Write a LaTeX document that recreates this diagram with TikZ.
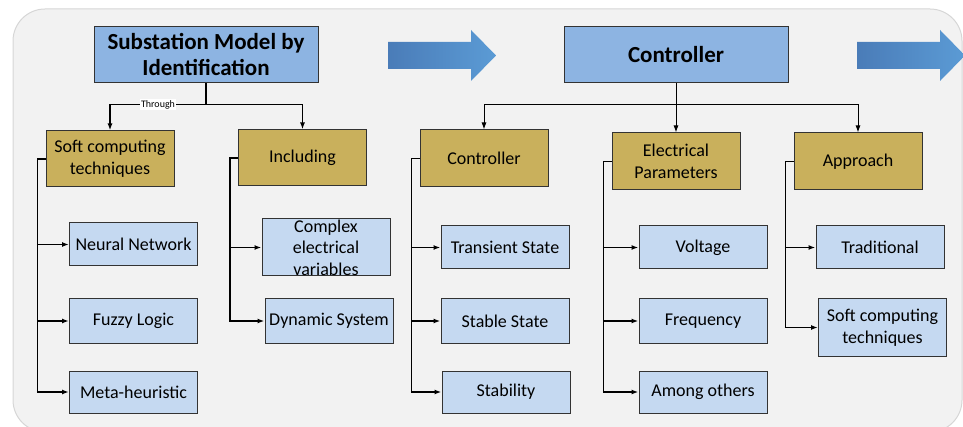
\documentclass[tikz,border=0pt]{standalone}
\usepackage{fontspec}
\setmainfont{Carlito}
\usepackage{xcolor}
\usetikzlibrary{arrows.meta,calc,positioning}
\definecolor{topblue}{RGB}{141,180,226}
\definecolor{goldbox}{RGB}{201,176,92}
\definecolor{leafblue}{RGB}{197,217,241}
\definecolor{panelgray}{RGB}{242,242,242}
\definecolor{paneledge}{RGB}{214,214,214}
\definecolor{arrowdark}{RGB}{74,124,184}
\definecolor{arrowlight}{RGB}{91,155,213}
\tikzset{
  topbox/.style={draw=black!80, line width=1pt, fill=topblue, minimum width=224pt, minimum height=56pt, align=center, inner sep=2pt, font=\fontsize{23}{26}\selectfont\bfseries},
  midbox/.style={draw=black!80, line width=1pt, fill=goldbox, minimum width=128pt, minimum height=56pt, align=center, inner sep=2pt, font=\fontsize{18}{21.6}\selectfont},
  leafbox/.style={draw=black!80, line width=1pt, fill=leafblue, minimum width=128pt, minimum height=43pt, align=center, inner sep=2pt, font=\fontsize{18}{21.6}\selectfont},
  bus/.style={line width=1.5pt},
  link/.style={line width=1.5pt, -{Latex[length=7pt,width=5pt]}},
  thinlink/.style={line width=1pt, -{Latex[length=7pt,width=5pt]}},
  tag/.style={fill=white, inner sep=1pt, font=\fontsize{10}{11}\selectfont},
  flowarrow/.style={left color=arrowdark, right color=arrowlight, draw=none}
}
\begin{document}
\begin{tikzpicture}[x=1pt,y=-1pt]
    \useasboundingbox (0,0) rectangle (963,427);
    % background panel
    \draw[paneledge, fill=panelgray, line width=1pt, rounded corners=32pt] (13,9) rectangle (962,432);
    % flow arrows
    \path[flowarrow] (388,42) -- (471,42) -- (471,30) -- (496,55.5) -- (471,81) -- (471,69) -- (388,69) -- cycle;
    \path[flowarrow] (857,42) -- (940,42) -- (940,30) -- (965,55.5) -- (940,81) -- (940,69) -- (857,69) -- cycle;
    % top boxes
    \node (smi) [topbox] at (206,55) {Substation Model by\\Identification};
    \node (ctrl) [topbox] at (676,55) {Controller};
    % second level
    \node (soft) [midbox] at (110,159) {Soft computing\\techniques};
    \node (incl) [midbox] at (302.5,158) {Including};
    \node (ctl) [midbox,minimum height=57pt] at (484,158.5) {Controller};
    \node (elec) [midbox,minimum height=57pt] at (676,161.5) {Electrical\\Parameters};
    \node (appr) [midbox,minimum height=57pt] at (858,161.5) {Approach};
    % leaves
    \node (neural) [leafbox] at (133.5,244.5) {Neural Network};
    \node (fuzzy) [leafbox,minimum height=44pt] at (133.5,321) {Fuzzy Logic};
    \node (meta) [leafbox,minimum height=42pt] at (133.5,392) {Meta-heuristic};
    \node (cplx) [leafbox,minimum height=57pt,inner ysep=-3pt] at (326,247.5) {Complex\\electrical\\variables};
    \node (dyn) [leafbox,minimum height=44pt] at (329,321) {Dynamic System};
    \node (trans) [leafbox] at (505,247.5) {Transient State};
    \node (stable) [leafbox,minimum height=44pt] at (505,321) {Stable State};
    \node (stab) [leafbox,minimum height=42pt] at (506,392) {Stability};
    \node (volt) [leafbox] at (703,247.5) {Voltage};
    \node (freq) [leafbox,minimum height=44pt] at (703,321) {Frequency};
    \node (among) [leafbox,minimum height=42pt] at (703,392) {Among others};
    \node (trad) [leafbox] at (880,247.5) {Traditional};
    \node (soft2) [leafbox,minimum height=57pt] at (882.5,327.5) {Soft computing\\techniques};
    % top connectors
    \draw[bus] (smi.south) -- ++(0,21) coordinate (smij);
    \draw[link] (smij) -| node[pos=0.25,tag] {Through} (soft.north);
    \draw[link] (smij) -| (incl.north);
    \draw[thinlink] (ctrl.south) -- (elec.north);
    \coordinate (ctrlj) at ($(ctrl.south)+(0,21)$);
    \draw[thinlink] (ctrlj) -| (ctl.north);
    \draw[thinlink] (ctrlj) -| (appr.north);
    % side buses
    \foreach \parent/\kids/\last in {soft/{neural,fuzzy,meta}/meta, incl/{cplx,dyn}/dyn, ctl/{trans,stable,stab}/stab, elec/{volt,freq,among}/among, appr/{trad,soft2}/soft2} {
        \draw[bus, line join=miter] (\parent.west) -- ++(-8,0) coordinate (\parent bus) -- (\parent bus |- \last.west);
        \foreach \kid in \kids
            \draw[link] ([xshift=-0.75pt]\parent bus |- \kid.west) -- (\kid.west);
    }
\end{tikzpicture}
\end{document}
